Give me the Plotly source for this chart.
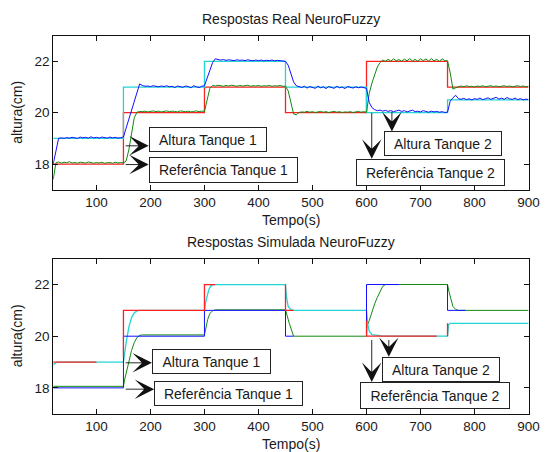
import numpy as np
import plotly.graph_objects as go

# ---------------- data ----------------
# Measured (real plant) responses, sampled every 5 s from 20 s to 900 s
t_real = np.arange(20, 901, 5)

altura2_real = [
    18.00, 18.55, 19.00, 19.02, 19.00, 19.03, 19.01, 19.04, 19.02, 19.00,
    19.05, 19.02, 19.04, 19.01, 19.06, 19.02, 19.04, 19.01, 19.05, 19.03,
    19.01, 19.05, 19.02, 19.04, 19.01, 19.03, 19.05, 19.40, 19.75, 20.10,
    20.45, 20.80, 21.12, 21.06, 21.03, 21.04, 21.02, 21.05, 21.03, 21.01,
    21.04, 21.02, 21.05, 21.01, 21.03, 20.98, 21.04, 21.02, 20.99, 21.04,
    21.02, 20.97, 21.05, 21.01, 20.98, 21.03, 21.05, 21.35, 21.65, 21.95,
    22.10, 22.06, 22.05, 22.07, 22.04, 22.06, 22.05, 22.03, 22.06, 22.04,
    22.05, 22.03, 22.06, 22.04, 22.02, 22.05, 22.03, 22.05, 22.02, 22.04,
    22.03, 22.05, 22.02, 22.04, 22.03, 22.02, 22.00, 21.85, 21.50, 21.20,
    21.05, 21.02, 20.98, 21.03, 20.96, 21.02, 20.99, 20.95, 21.03, 20.97,
    21.01, 20.94, 21.02, 20.98, 20.95, 21.03, 20.97, 21.00, 20.94, 21.02,
    20.98, 20.96, 21.01, 20.97, 21.00, 20.98, 20.95, 20.40, 20.20, 20.12,
    20.08, 20.10, 20.06, 20.09, 20.05, 20.08, 20.04, 20.07, 20.10, 20.05,
    20.08, 20.03, 20.07, 20.10, 20.04, 20.06, 20.03, 20.08, 20.05, 20.02,
    20.06, 20.03, 20.05, 20.02, 20.04, 20.01, 20.02, 20.45, 20.58, 20.68,
    20.55, 20.52, 20.56, 20.51, 20.54, 20.50, 20.55, 20.52, 20.57, 20.51,
    20.54, 20.58, 20.52, 20.55, 20.60, 20.53, 20.57, 20.52, 20.59, 20.54,
    20.52, 20.57, 20.51, 20.55, 20.50, 20.53, 20.51,
]

altura1_real = [
    17.40, 18.05, 18.08, 18.04, 18.07, 18.05, 18.09, 18.04, 18.06, 18.03,
    18.07, 18.05, 18.04, 18.08, 18.05, 18.03, 18.06, 18.04, 18.07, 18.03,
    18.05, 18.06, 18.03, 18.07, 18.04, 18.06, 18.04, 18.12, 18.55, 19.20,
    19.80, 20.02, 20.05, 20.04, 20.06, 20.03, 20.05, 20.07, 20.04, 20.06,
    20.03, 20.05, 20.07, 20.04, 20.06, 20.05, 20.03, 20.07, 20.05, 20.04,
    20.06, 20.03, 20.05, 20.07, 20.04, 20.06, 20.05, 20.55, 20.95, 21.06,
    21.04, 21.07, 21.05, 21.03, 21.06, 21.04, 21.07, 21.05, 21.03, 21.06,
    21.04, 21.05, 21.07, 21.03, 21.05, 21.04, 21.06, 21.03, 21.05, 21.04,
    21.06, 21.03, 21.05, 21.04, 21.06, 21.03, 21.03, 20.85, 20.40, 19.95,
    19.92, 20.01, 20.03, 20.02, 20.05, 20.02, 20.04, 20.01, 20.03, 20.05,
    20.02, 20.04, 20.01, 20.03, 20.05, 20.02, 20.04, 20.01, 20.03, 20.02,
    20.04, 20.01, 20.03, 20.05, 20.02, 20.04, 20.02, 20.75, 21.15, 21.50,
    21.78, 21.95, 22.05, 22.00, 22.08, 22.01, 22.10, 22.02, 22.07, 22.00,
    22.09, 22.02, 22.11, 22.01, 22.08, 22.00, 22.10, 22.03, 22.09, 22.01,
    22.11, 22.02, 22.08, 22.00, 22.10, 22.03, 22.02, 21.55, 20.92, 20.97,
    21.02, 21.04, 21.01, 21.05, 21.02, 21.03, 21.00, 21.04, 21.02, 21.05,
    21.01, 21.03, 21.05, 21.02, 21.04, 21.01, 21.03, 21.05, 21.02, 21.04,
    21.01, 21.03, 21.05, 21.02, 21.04, 21.01, 21.03,
]

# Set-points (step references) used in the real run
t_ref = [20, 150, 150, 300, 300, 450, 450, 600, 600, 750, 750, 900]
ref1_real = [18, 18, 20, 20, 21, 21, 20, 20, 22, 22, 21, 21]
ref2_real = [19, 19, 21, 21, 22, 22, 21, 21, 20, 20, 20.5, 20.5]

# Simulated run
t_ref1_sim = [20, 150, 150, 300, 300, 450, 450, 465, None, 600, 600, 660, None, 750, 750, 783]
ref1_sim = [18, 18, 20, 20, 21, 21, 20, 20, None, 20, 22, 22, None, 22, 21, 21]

t_ref2_sim = [20, 100, None, 150, 150, 300, 300, 320, None, 450, 450, 465, None,
              600, 600, 730, None, 750, 750]
ref2_sim = [19, 19, None, 19.2, 21, 21, 22, 22, None, 22, 21, 21, None,
            20.6, 20, 20, None, 20, 20.5]

t_alt1_sim = [20, 150, 152, 155, 160, 165, 170, 175, 180, 185, 300, 303, 306, 310, 315,
              320, 450, 457, 465, 600, 601, 605, 610, 615, 620, 625, 630, 635, 750, 753,
              756, 760, 765, 770, 900]
alt1_sim = [18.06, 18.06, 18.3, 18.6, 19.0, 19.45, 19.75, 19.95, 20.03, 20.05, 20.05,
            20.35, 20.65, 20.88, 20.98, 21.02, 21.02, 20.5, 20.0, 20.0, 20.4, 20.6,
            20.95, 21.25, 21.5, 21.75, 21.93, 22.0, 22.0, 21.7, 21.45, 21.15, 21.04,
            21.0, 21.0]

t_alt2_sim = [20, 27, 150, 152, 155, 160, 165, 170, 175, 180, 300, 302, 305, 308, 312,
              316, 450, 452, 455, 460, 465, 600, 602, 605, 610, 620, 630, 750, 752, 755,
              900]
alt2_sim = [18.9, 19.0, 19.0, 19.35, 19.75, 20.35, 20.72, 20.9, 20.98, 21.0, 21.0, 21.3,
            21.6, 21.8, 21.95, 22.0, 22.0, 21.5, 21.15, 21.03, 21.0, 21.0, 20.5, 20.2,
            20.06, 20.02, 20.0, 20.0, 20.45, 20.5, 20.5]

x_ticks = [100, 200, 300, 400, 500, 600, 700, 800, 900]
y_ticks = [18, 20, 22]

# ---------------- styling ----------------
RED = "#ff2020"
BLUE = "#1010ff"
GREEN = "#108a10"
CYAN = "#22d4d4"
FONT = "Liberation Sans, Arial, sans-serif"
INK = "#1a1a1a"
LW = 1.0

W, H = 552, 452
X0, X1 = 54.3, 539.3
TOP = (35.7, 189.7)
BOT = (258.7, 413.7)


def ydom(p):
    return [1 - p[1] / H, 1 - p[0] / H]


fig = go.Figure()


def line(x, y, color, xa, ya, width=LW):
    fig.add_trace(go.Scatter(x=x, y=y, mode="lines", xaxis=xa, yaxis=ya,
                             line=dict(color=color, width=width),
                             connectgaps=False, showlegend=False, hoverinfo="skip"))


# Real run: references first, responses on top
line(t_ref, ref1_real, RED, "x", "y", 1.3)
line(t_ref, ref2_real, CYAN, "x", "y", 1.3)
line(t_real, altura1_real, GREEN, "x", "y")
line(t_real, altura2_real, BLUE, "x", "y")

# Simulated run
line(t_alt1_sim, alt1_sim, GREEN, "x2", "y2")
line(t_alt2_sim, alt2_sim, CYAN, "x2", "y2", 1.3)
line(t_ref1_sim, ref1_sim, BLUE, "x2", "y2")
line(t_ref2_sim, ref2_sim, RED, "x2", "y2", 1.3)

axis_common = dict(
    showline=True, linecolor="#111", linewidth=1, mirror="ticks",
    ticks="inside", ticklen=5, tickwidth=1, tickcolor="#111",
    showgrid=False, zeroline=False,
    tickfont=dict(family=FONT, size=13.5, color=INK),
)

fig.update_layout(
    width=W, height=H, margin=dict(l=0, r=0, t=0, b=0),
    paper_bgcolor="white", plot_bgcolor="white",
    xaxis=dict(domain=[X0 / W, X1 / W], range=[20, 900], tickvals=x_ticks,
               anchor="y", **axis_common),
    yaxis=dict(domain=ydom(TOP), range=[17, 23], tickvals=y_ticks,
               anchor="x", **axis_common),
    xaxis2=dict(domain=[X0 / W, X1 / W], range=[20, 900], tickvals=x_ticks,
                anchor="y2", **axis_common),
    yaxis2=dict(domain=ydom(BOT), range=[17, 23], tickvals=y_ticks,
                anchor="x2", **axis_common),
)

ann = []


def label(text, xp, yp, angle=0, size=14):
    ann.append(dict(text=text, x=xp / W, y=1 - yp / H, xref="paper", yref="paper",
                    xanchor="center", yanchor="middle", showarrow=False,
                    textangle=angle, font=dict(family=FONT, size=size, color=INK)))


label("Respostas Real NeuroFuzzy", (X0 + X1) / 2, 19)
label("Tempo(s)", (X0 + X1) / 2, 220)
label("altura(cm)", 17.5, sum(TOP) / 2, angle=-90)
label("Respostas Simulada NeuroFuzzy", (X0 + X1) / 2, 242)
label("Tempo(s)", (X0 + X1) / 2, 444)
label("altura(cm)", 17.5, sum(BOT) / 2, angle=-90)


def box(text, x, y, w, h, xr, yr):
    ann.append(dict(text=text, x=x, y=y, xref=xr, yref=yr, xanchor="left",
                    yanchor="top", showarrow=False, width=w - 2, height=h - 2,
                    align="center", valign="middle", bgcolor="white",
                    bordercolor="#222", borderwidth=1, borderpad=0,
                    font=dict(family=FONT, size=14, color=INK)))


def arrow(x0, y0, x1, y1, xr, yr):
    ann.append(dict(text="", x=x1, y=y1, ax=x0, ay=y0, xref=xr, yref=yr,
                    axref=xr, ayref=yr, showarrow=True, arrowhead=3,
                    arrowsize=3.6, arrowwidth=0.9, arrowcolor="#111"))


# Real run labels
box("Altura Tanque 1", 196.7, 19.43, 118, 25, "x", "y")
box("Referência Tanque 1", 196.7, 18.27, 149, 26, "x", "y")
box("Altura Tanque 2", 633.3, 19.27, 118, 25, "x", "y")
box("Referência Tanque 2", 580.7, 18.21, 149, 27, "x", "y")
arrow(151.4, 18.71, 196.7, 18.71, "x", "y")
arrow(151.4, 17.98, 196.7, 17.98, "x", "y")
arrow(647.0, 20.09, 647.0, 19.27, "x", "y")
arrow(609.7, 20.05, 609.7, 18.21, "x", "y")

# Simulated run labels
box("Altura Tanque 1", 202.7, 19.51, 119, 25, "x2", "y2")
box("Referência Tanque 1", 206.9, 18.26, 149, 25, "x2", "y2")
box("Altura Tanque 2", 627.8, 19.2, 118, 25, "x2", "y2")
box("Referência Tanque 2", 587.9, 18.23, 150, 27, "x2", "y2")
arrow(151.4, 18.97, 202.7, 18.97, "x2", "y2")
arrow(151.4, 17.95, 206.9, 17.95, "x2", "y2")
arrow(641.3, 19.91, 641.3, 19.2, "x2", "y2")
arrow(609.7, 19.91, 609.7, 18.23, "x2", "y2")

fig.update_layout(annotations=ann)
fig.write_html("out.html")
